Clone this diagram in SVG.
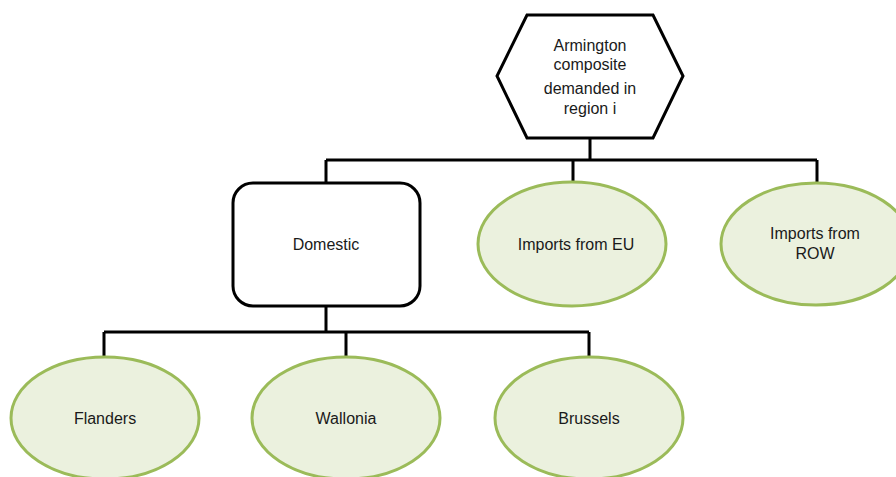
<svg xmlns="http://www.w3.org/2000/svg" width="896" height="477" viewBox="0 0 896 477">
  <style>
    .line { fill: none; stroke: #000; stroke-width: 3; }
    .box { fill: #fff; stroke: #000; stroke-width: 3; }
    .oval { fill: #EBF1DE; stroke: #9BBB59; stroke-width: 3; }
    text { font-family: "Liberation Sans", Arial, sans-serif; font-size: 16px; fill: #1a1a1a; text-anchor: middle; }
  </style>
  <rect width="896" height="477" fill="#fff"/>

  <g id="connectors">
    <path class="line" d="M590 138 V160 M326 160 H817 M326 160 V183 M573 160 V182 M817 160 V183"/>
    <path class="line" d="M326 306 V332 M104 332 H589 M104 332 V357 M346 332 V357 M589 332 V357"/>
  </g>

  <g id="armington">
    <polygon class="box" points="527,15 653,15 683,76 653,138 527,138 497,76"/>
    <text x="590" y="51">Armington</text>
    <text x="590" y="70">composite</text>
    <text x="590" y="94">demanded in</text>
    <text x="590" y="114">region i</text>
  </g>

  <g id="domestic">
    <rect class="box" x="233" y="183" width="187" height="123" rx="20"/>
    <text x="326" y="250">Domestic</text>
  </g>

  <g id="imports-eu">
    <ellipse class="oval" cx="572" cy="244" rx="94" ry="62"/>
    <text x="576" y="250">Imports from EU</text>
  </g>

  <g id="imports-row">
    <ellipse class="oval" cx="816" cy="244" rx="95" ry="61"/>
    <text x="815" y="239">Imports from</text>
    <text x="815" y="259">ROW</text>
  </g>

  <g id="flanders">
    <ellipse class="oval" cx="105" cy="418" rx="94" ry="61"/>
    <text x="105" y="424">Flanders</text>
  </g>

  <g id="wallonia">
    <ellipse class="oval" cx="346" cy="418" rx="94" ry="61"/>
    <text x="346" y="424">Wallonia</text>
  </g>

  <g id="brussels">
    <ellipse class="oval" cx="589" cy="418" rx="94" ry="61"/>
    <text x="589" y="424">Brussels</text>
  </g>
</svg>
